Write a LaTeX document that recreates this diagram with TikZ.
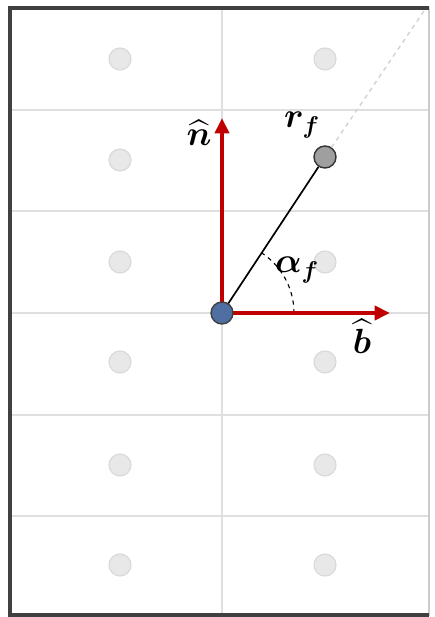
\documentclass[tikz,border=0pt]{standalone}
\usepackage{amsmath}
\usepackage{bm}
\usetikzlibrary{arrows.meta,positioning}
\definecolor{axisred}{HTML}{C00000}
\definecolor{originblue}{HTML}{4F6FA3}
\begin{document}
\begin{tikzpicture}[
    x=0.025cm, y=0.025cm,
    >={Triangle[length=11pt,width=10pt]},
    font=\fontsize{25}{29}\selectfont,
    dot/.style={circle, minimum size=0.55cm, inner sep=0pt},
    ghost/.style={dot, draw=gray!30, fill=gray!18, line width=0.8pt},
    gridline/.style={draw=gray!25, line width=0.8pt},
    axis/.style={->, draw=axisred, fill=axisred, line width=3pt}
]
\useasboundingbox (0,0) rectangle (434,617);
\fill[white] (0,0) rectangle (434,617);
\foreach \y in {507,406,304,202,101}
  \draw[gridline] (10,\y) -- (429,\y);
\draw[gridline] (222,2) -- (222,609);
\draw[gray!40, line width=0.8pt] (10,2) rectangle (429,609);
\draw[black!75, line width=2.4pt] (429,609) -- (10,609) -- (10,2) -- (429,2);
\foreach \y in {558,457,355,255,152,52}
  \node[ghost] (l\y) at (120,\y) {};
\foreach \y in {558,355,255,152,52}
  \node[ghost] (r\y) at (325,\y) {};
\coordinate (far) at (424,606);
\node[dot, draw=black!80, fill=gray!75, line width=1pt] (rf) at (325,460) {};
\draw[gray!35, dashed, line width=1pt] (rf) -- (far);
\coordinate (ntip) at (222,499);
\coordinate (btip) at (390,304);
\coordinate (o) at (222,304);
\draw[black, line width=1.2pt] (o) -- (rf);
\draw[black, dashed, line width=0.8pt] (o) ++(0:72) arc[start angle=0, end angle=56.6, radius=72];
\draw[axis] (o) -- (ntip);
\draw[axis] (o) -- (btip);
\node[dot, draw=black!75, fill=originblue, line width=1pt] (org) at (o) {};
\node (nlab) at (199,484) {$\bm{\widehat{n}}$};
\node (rlab) at (302,492) {$\bm{r_f}$};
\node (alab) at (297,347) {$\bm{\alpha_f}$};
\node (blab) at (362,281) {$\bm{\widehat{b}}$};
\end{tikzpicture}
\end{document}
